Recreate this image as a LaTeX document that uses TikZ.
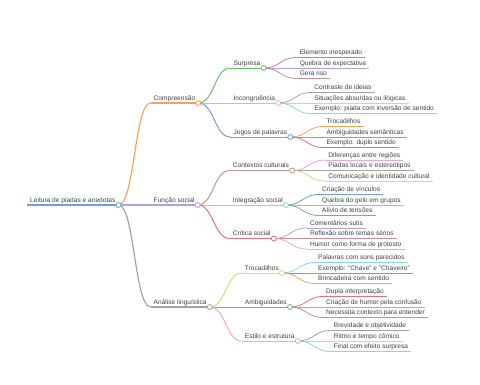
\documentclass[tikz,border=0pt]{standalone}
\usepackage{fontspec}
\setmainfont{Liberation Sans}
\usepackage{xcolor}
\definecolor{cBlue}{HTML}{6E9FD8}
\definecolor{cOrange}{HTML}{F5A35A}
\definecolor{cGreen}{HTML}{6ABF69}
\definecolor{cRed}{HTML}{E07080}
\definecolor{cPurple}{HTML}{B3A2D9}
\definecolor{cBrown}{HTML}{C2919A}
\definecolor{cPink}{HTML}{EBA6D2}
\definecolor{cGray}{HTML}{A3A3A3}
\definecolor{cOlive}{HTML}{D4DC78}
\definecolor{cCyan}{HTML}{86D6EA}
\definecolor{cText}{HTML}{404040}
\usepackage{tikz}
\usetikzlibrary{positioning,calc,backgrounds}
\newcommand{\mmfont}{\fontsize{6.6}{7}\selectfont}
\tikzset{
  topic/.style={anchor=south west,inner xsep=3pt,inner ysep=1.3pt,
    text height=4.8pt,text depth=1.4pt,font=\mmfont,text=cText},
  underlined/.style 2 args={append after command={
    (\tikzlastnode.south west) edge[draw=#1,line width=#2] (\tikzlastnode.south east)}},
  t-root/.style={topic,underlined={#1}{1.6pt}},
  t-main/.style={topic,underlined={#1}{1.2pt}},
  t-sub/.style={topic,underlined={#1}{1pt}},
  t-leaf/.style={topic,underlined={#1}{0.8pt}},
  dot/.style={circle,draw=#1,fill=white,line width=0.8pt,inner sep=0pt,minimum size=5pt},
  link-main/.style={draw=#1,line width=1.2pt},
  link-sub/.style={draw=#1,line width=1pt},
  link-leaf/.style={draw=#1,line width=0.8pt},
}
% ligação curva (tangentes horizontais nas duas pontas)
\newcommand{\mmlink}[3]{\draw[#1] let \p1=(#2), \p2=(#3) in
  (\p1) .. controls ({(\x1+\x2)/2},\y1) and ({(\x1+\x2)/2},\y2) .. (\p2);}

\begin{document}
\begin{tikzpicture}[x=1pt,y=-1pt]
  \useasboundingbox (0,0) rectangle (480,384);
  % raiz
  \node[t-root=cBlue] (root) at (27,205) {Leitura de piadas e anedotas};
  \node[dot=cBlue] (root-d) at (root.south east) {};

  % nível 1
  \node[t-main=cOrange] (comp) at ([shift={(32,-102)}]root-d) {Compreensão};
  \node[dot=cOrange] (comp-d) at (comp.south east) {};
  \node[t-main=cPurple] (func) at ([shift={(32,0)}]root-d) {Função social};
  \node[dot=cPurple] (func-d) at (func.south east) {};
  \node[t-main=cGray] (anal) at ([shift={(32,102)}]root-d) {Análise linguística};
  \node[dot=cGray] (anal-d) at (anal.south east) {};

  % Compreensão
  \node[t-sub=cGreen] (surp) at ([shift={(32,-35)}]comp-d) {Surpresa};
  \node[dot=cGreen] (surp-d) at (surp.south east) {};
  \node[t-sub=cPink] (incg) at ([shift={(32,0)}]comp-d) {Incongruência};
  \node[dot=cPink] (incg-d) at (incg.south east) {};
  \node[t-sub=cBlue] (jogo) at ([shift={(32,34)}]comp-d) {Jogos de palavras};
  \node[dot=cBlue] (jogo-d) at (jogo.south east) {};

  \node[t-leaf=cRed] (surp-1) at ([shift={(33,-10.5)}]surp-d) {Elemento inesperado};
  \node[t-leaf=cPurple] (surp-2) at ([shift={(33,0)}]surp-d) {Quebra de expectativa};
  \node[t-leaf=cBrown] (surp-3) at ([shift={(33,10.5)}]surp-d) {Gera riso};
  \node[t-leaf=cGray] (incg-1) at ([shift={(33,-10.5)}]incg-d) {Contraste de ideias};
  \node[t-leaf=cOlive] (incg-2) at ([shift={(33,0)}]incg-d) {Situações absurdas ou ilógicas};
  \node[t-leaf=cCyan] (incg-3) at ([shift={(33,10.5)}]incg-d) {Exemplo: piada com inversão de sentido};
  \node[t-leaf=cOrange] (jogo-1) at ([shift={(33,-10.5)}]jogo-d) {Trocadilhos};
  \node[t-leaf=cGreen] (jogo-2) at ([shift={(33,0)}]jogo-d) {Ambiguidades semânticas};
  \node[t-leaf=cRed] (jogo-3) at ([shift={(33,10.5)}]jogo-d) {Exemplo: duplo sentido};

  % Função social
  \node[t-sub=cBrown] (ctx) at ([shift={(32,-34.5)}]func-d) {Contextos culturais};
  \node[dot=cBrown] (ctx-d) at (ctx.south east) {};
  \node[t-sub=cCyan] (intg) at ([shift={(32,0)}]func-d) {Integração social};
  \node[dot=cCyan] (intg-d) at (intg.south east) {};
  \node[t-sub=cRed] (crit) at ([shift={(32,33.5)}]func-d) {Crítica social};
  \node[dot=cRed] (crit-d) at (crit.south east) {};

  \node[t-leaf=cPink] (ctx-1) at ([shift={(33,-10.5)}]ctx-d) {Diferenças entre regiões};
  \node[t-leaf=cGray] (ctx-2) at ([shift={(33,0)}]ctx-d) {Piadas locais e estereótipos};
  \node[t-leaf=cOlive] (ctx-3) at ([shift={(33,10.5)}]ctx-d) {Comunicação e identidade cultural};
  \node[t-leaf=cBlue] (intg-1) at ([shift={(33,-10.5)}]intg-d) {Criação de vínculos};
  \node[t-leaf=cOrange] (intg-2) at ([shift={(33,0)}]intg-d) {Quebra do gelo em grupos};
  \node[t-leaf=cGreen] (intg-3) at ([shift={(33,10.5)}]intg-d) {Alívio de tensões};
  \node[t-leaf=cPurple] (crit-1) at ([shift={(33,-10.5)}]crit-d) {Comentários sutis};
  \node[t-leaf=cBrown] (crit-2) at ([shift={(33,0)}]crit-d) {Reflexão sobre temas sérios};
  \node[t-leaf=cPink] (crit-3) at ([shift={(33,10.5)}]crit-d) {Humor como forma de protesto};

  % Análise linguística
  \node[t-sub=cOlive] (troc) at ([shift={(32,-34)}]anal-d) {Trocadilhos};
  \node[dot=cOlive] (troc-d) at (troc.south east) {};
  \node[t-sub=cGreen] (ambg) at ([shift={(32,0)}]anal-d) {Ambiguidades};
  \node[dot=cGreen] (ambg-d) at (ambg.south east) {};
  \node[t-sub=cPink] (esti) at ([shift={(32,34)}]anal-d) {Estilo e estrutura};
  \node[dot=cPink] (esti-d) at (esti.south east) {};

  \node[t-leaf=cCyan] (troc-1) at ([shift={(33,-10.5)}]troc-d) {Palavras com sons parecidos};
  \node[t-leaf=cBlue] (troc-2) at ([shift={(33,0)}]troc-d) {Exemplo: "Chave" e "Chaveiro"};
  \node[t-leaf=cOrange] (troc-3) at ([shift={(33,10.5)}]troc-d) {Brincadeira com sentido};
  \node[t-leaf=cRed] (ambg-1) at ([shift={(33,-10.5)}]ambg-d) {Dupla interpretação};
  \node[t-leaf=cPurple] (ambg-2) at ([shift={(33,0)}]ambg-d) {Criação de humor pela confusão};
  \node[t-leaf=cBrown] (ambg-3) at ([shift={(33,10.5)}]ambg-d) {Necessita contexto para entender};
  \node[t-leaf=cGray] (esti-1) at ([shift={(33,-10.5)}]esti-d) {Brevidade e objetividade};
  \node[t-leaf=cOlive] (esti-2) at ([shift={(33,0)}]esti-d) {Ritmo e tempo cômico};
  \node[t-leaf=cCyan] (esti-3) at ([shift={(33,10.5)}]esti-d) {Final com efeito surpresa};

  % ligações
  \begin{scope}[on background layer]
    \foreach \col/\a/\b in {cOrange/root-d/comp, cPurple/root-d/func, cGray/root-d/anal}
      {\mmlink{link-main=\col}{\a}{\b.south west}}
    \foreach \col/\a/\b in {cGreen/comp-d/surp, cPink/comp-d/incg, cBlue/comp-d/jogo,
        cBrown/func-d/ctx, cCyan/func-d/intg, cRed/func-d/crit,
        cOlive/anal-d/troc, cGreen/anal-d/ambg, cPink/anal-d/esti}
      {\mmlink{link-sub=\col}{\a}{\b.south west}}
    \foreach \col/\a/\b in {cRed/surp-d/surp-1, cPurple/surp-d/surp-2, cBrown/surp-d/surp-3,
        cGray/incg-d/incg-1, cOlive/incg-d/incg-2, cCyan/incg-d/incg-3,
        cOrange/jogo-d/jogo-1, cGreen/jogo-d/jogo-2, cRed/jogo-d/jogo-3,
        cPink/ctx-d/ctx-1, cGray/ctx-d/ctx-2, cOlive/ctx-d/ctx-3,
        cBlue/intg-d/intg-1, cOrange/intg-d/intg-2, cGreen/intg-d/intg-3,
        cPurple/crit-d/crit-1, cBrown/crit-d/crit-2, cPink/crit-d/crit-3,
        cCyan/troc-d/troc-1, cBlue/troc-d/troc-2, cOrange/troc-d/troc-3,
        cRed/ambg-d/ambg-1, cPurple/ambg-d/ambg-2, cBrown/ambg-d/ambg-3,
        cGray/esti-d/esti-1, cOlive/esti-d/esti-2, cCyan/esti-d/esti-3}
      {\mmlink{link-leaf=\col}{\a}{\b.south west}}
  \end{scope}
\end{tikzpicture}
\end{document}
